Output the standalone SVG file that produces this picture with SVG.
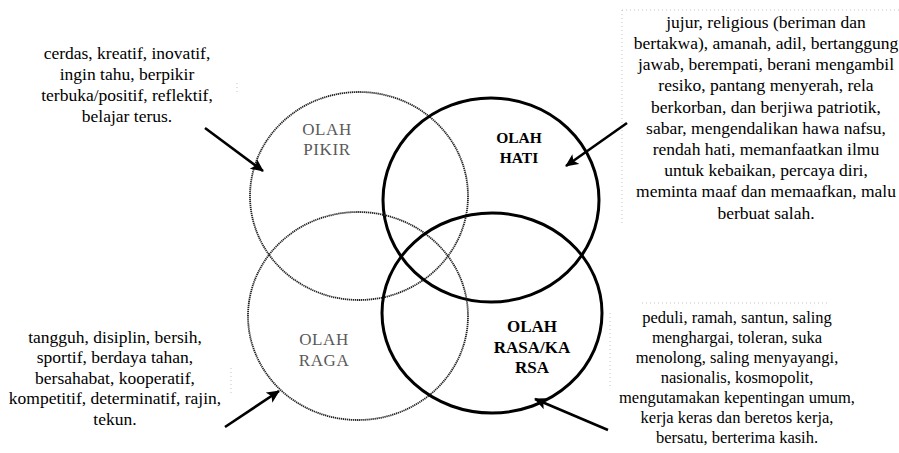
<svg xmlns="http://www.w3.org/2000/svg" width="899" height="453" viewBox="0 0 899 453">
<style>
.txt{font-family:"Liberation Serif","Times New Roman",serif;font-size:17.5px;fill:#000;text-anchor:middle}
.txt2{font-family:"Liberation Serif","Times New Roman",serif;font-size:16.5px;fill:#000;text-anchor:middle}
.thin{fill:none;stroke:#222;stroke-width:1.8;stroke-dasharray:1.3 0.7}
.thick{fill:none;stroke:#000;stroke-width:3}
.lblg{font-family:"Liberation Serif","Times New Roman",serif;font-size:17px;fill:#5a5a5a;text-anchor:middle;letter-spacing:0.6px}
.lblb{font-family:"Liberation Serif","Times New Roman",serif;font-weight:bold;fill:#000;text-anchor:middle}
.arr{stroke:#000;stroke-width:2.6;fill:none;marker-end:url(#ah)}
.box{fill:none;stroke:#c4c4c4;stroke-width:1;stroke-dasharray:1 3}
</style>
<defs>
<marker id="ah" markerUnits="userSpaceOnUse" markerWidth="14" markerHeight="12" refX="12" refY="6" orient="auto">
<path d="M0,0 L13,6 L0,12 L3,6 Z" fill="#000"/>
</marker>
</defs>
<rect width="899" height="453" fill="#fff"/>
<g id="boxes">
<path class="box" d="M622,10 H899 M622,10 V225"/>
<path class="box" d="M642,303 H830 M610,313 V387"/>
<path class="box" d="M231,368 V395"/>
<path class="box" d="M237,83 V93"/>
</g>
<g id="olah-pikir">
<ellipse class="thin" cx="359" cy="196" rx="109" ry="104"/>
<text class="lblg" x="327" y="135">OLAH</text>
<text class="lblg" x="327" y="155">PIKIR</text>
</g>
<g id="olah-hati">
<ellipse class="thick" cx="491" cy="200" rx="108" ry="102"/>
<text class="lblb" x="519" y="143" font-size="15.5">OLAH</text>
<text class="lblb" x="519" y="163" font-size="15.5">HATI</text>
</g>
<g id="olah-raga">
<ellipse class="thin" cx="358" cy="316" rx="110" ry="104"/>
<text class="lblg" x="324" y="345">OLAH</text>
<text class="lblg" x="324" y="366">RAGA</text>
</g>
<g id="olah-rasa">
<ellipse class="thick" cx="492" cy="313" rx="110" ry="100"/>
<text class="lblb" x="532" y="332" font-size="17px">OLAH</text>
<text class="lblb" x="532" y="353" font-size="17px">RASA/KA</text>
<text class="lblb" x="532" y="373" font-size="17px">RSA</text>
</g>
<g id="text-pikir">
<text class="txt" x="127" y="59">cerdas, kreatif, inovatif,</text>
<text class="txt" x="127" y="80">ingin tahu, berpikir</text>
<text class="txt" x="127" y="101">terbuka/positif, reflektif,</text>
<text class="txt" x="127" y="122">belajar terus.</text>
</g>
<g id="text-hati">
<text class="txt" x="766" y="28">jujur, religious (beriman dan</text>
<text class="txt" x="766" y="49">bertakwa), amanah, adil, bertanggung</text>
<text class="txt" x="766" y="70">jawab, berempati, berani mengambil</text>
<text class="txt" x="766" y="91">resiko, pantang menyerah, rela</text>
<text class="txt" x="766" y="113">berkorban, dan berjiwa patriotik,</text>
<text class="txt" x="766" y="134">sabar, mengendalikan hawa nafsu,</text>
<text class="txt" x="766" y="155">rendah hati, memanfaatkan ilmu</text>
<text class="txt" x="766" y="176">untuk kebaikan, percaya diri,</text>
<text class="txt" x="766" y="197">meminta maaf dan memaafkan, malu</text>
<text class="txt" x="766" y="219">berbuat salah.</text>
</g>
<g id="text-raga">
<text class="txt" x="115" y="343">tangguh, disiplin, bersih,</text>
<text class="txt" x="115" y="363">sportif, berdaya tahan,</text>
<text class="txt" x="115" y="384">bersahabat, kooperatif,</text>
<text class="txt" x="115" y="404">kompetitif, determinatif, rajin,</text>
<text class="txt" x="115" y="425">tekun.</text>
</g>
<g id="text-rasa">
<text class="txt2" x="737" y="323">peduli, ramah, santun, saling</text>
<text class="txt2" x="737" y="343">menghargai, toleran, suka</text>
<text class="txt2" x="737" y="363">menolong, saling menyayangi,</text>
<text class="txt2" x="737" y="383">nasionalis, kosmopolit,</text>
<text class="txt2" x="737" y="403">mengutamakan kepentingan umum,</text>
<text class="txt2" x="737" y="423">kerja keras dan beretos kerja,</text>
<text class="txt2" x="737" y="443">bersatu, berterima kasih.</text>
</g>
<g id="connectors">
<line class="arr" x1="205" y1="128" x2="263" y2="171"/>
<line class="arr" x1="627" y1="123" x2="566" y2="166"/>
<line class="arr" x1="225" y1="427" x2="279" y2="391"/>
<line class="arr" x1="608" y1="430" x2="535" y2="399"/>
</g>
</svg>
